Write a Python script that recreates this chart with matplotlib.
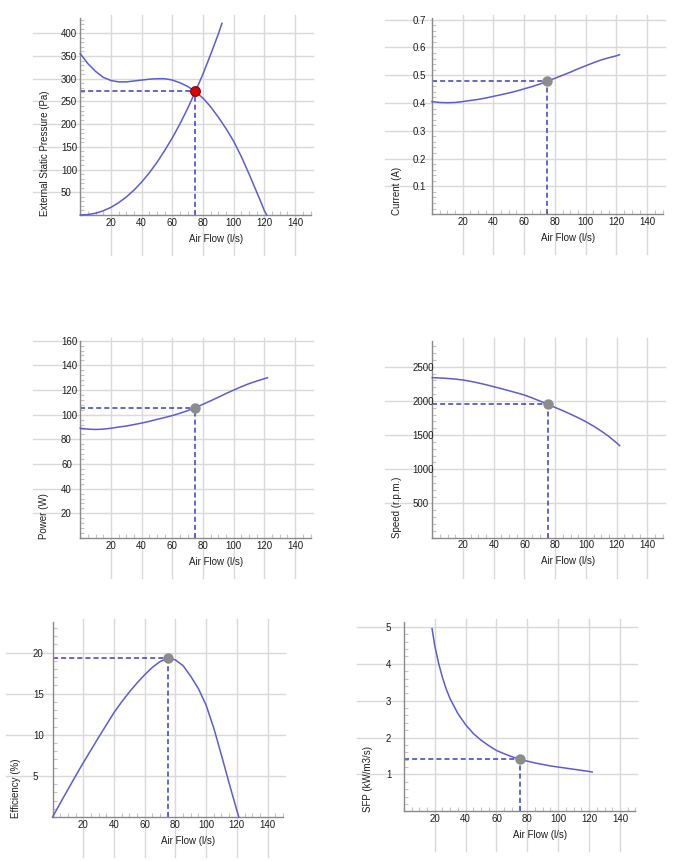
import matplotlib
matplotlib.use('Agg')
import matplotlib.pyplot as plt
import matplotlib.transforms as mtrans
from matplotlib.lines import Line2D
from matplotlib.ticker import MultipleLocator

plt.rcParams['font.family'] = ['Liberation Sans', 'DejaVu Sans']

# ---- data ------------------------------------------------------------------
flow = [0, 5, 10, 15, 20, 25, 30, 35, 40, 45, 50, 55, 60, 65, 70, 75,
        80, 85, 90, 95, 100, 105, 110, 115, 118, 120, 121.5]
pressure = [355, 333, 316, 303, 296, 293, 293, 295, 297, 299, 300, 300, 297,
            291, 283, 272, 257, 238, 215, 190, 162, 128, 90, 50, 26, 9, 0]

sys_flow = [0, 5, 10, 15, 20, 25, 30, 35, 40, 45, 50, 55, 60, 65, 70, 75,
            80, 85, 90, 92.3]
sys_pressure = [0, 0.9, 4, 9.3, 16.9, 27.1, 39.7, 54.9, 72.6, 93, 116, 142,
                170, 201, 235, 272, 311, 354, 399, 422]

flow2 = [0, 5, 10, 15, 20, 25, 30, 35, 40, 45, 50, 55, 60, 65, 70, 75,
         80, 85, 90, 95, 100, 105, 110, 115, 120, 122]
current = [0.405, 0.402, 0.401, 0.402, 0.405, 0.409, 0.413, 0.418, 0.424,
           0.430, 0.436, 0.443, 0.451, 0.459, 0.468, 0.478, 0.489, 0.500,
           0.511, 0.523, 0.534, 0.545, 0.555, 0.563, 0.570, 0.574]
power = [89, 88.3, 88, 88.3, 89, 90, 90.8, 92, 93.2, 94.6, 96.2, 97.7, 99.3,
         101.2, 103.3, 105.7, 108.5, 111.3, 114.2, 117.2, 120, 122.7, 125.2,
         127.3, 129.2, 130]
speed = [2339, 2335, 2328, 2318, 2305, 2285, 2262, 2236, 2207, 2178, 2148,
         2117, 2085, 2043, 1998, 1949, 1903, 1856, 1805, 1752, 1695, 1630,
         1558, 1478, 1385, 1344]

eff_flow = [0, 5, 10, 15, 20, 25, 30, 35, 40, 45, 50, 55, 60, 65, 70, 75,
            80, 85, 90, 95, 100, 105, 110, 115, 120, 121.3]
efficiency = [0, 1.7, 3.35, 5.0, 6.6, 8.15, 9.7, 11.2, 12.7, 14.0, 15.2,
              16.3, 17.3, 18.2, 18.9, 19.3, 19.1, 18.4, 17.1, 15.6, 13.6,
              10.8, 7.5, 4.1, 0.8, 0]

sfp_flow = [18.3, 20, 22.5, 25, 27.5, 30, 35, 40, 45, 50, 55, 60, 65, 70,
            75, 80, 85, 90, 95, 100, 105, 110, 115, 120, 122]
sfp = [4.95, 4.5, 4.02, 3.63, 3.31, 3.05, 2.65, 2.35, 2.11, 1.93, 1.78, 1.65,
       1.56, 1.48, 1.41, 1.36, 1.31, 1.27, 1.23, 1.20, 1.17, 1.14, 1.11,
       1.08, 1.065]

op_flow = 75
op_values = [272, 0.478, 105.7, 1949, 19.3, 1.41]

x_ticks = [20, 40, 60, 80, 100, 120, 140]

W, H = 680, 862
CURVE = '#5c5cd6'
DASH = '#3c3cc8'
GRID = '#d9d9d9'
TXT = '#1e1e1e'

# panel boxes in pixels: left, top, right, bottom
panels = [
    dict(box=(80.3, 19.3, 310.5, 216), ytop=433, yt=[50, 100, 150, 200, 250, 300, 350, 400],
         fmt='{:g}', lx=61, labx=45, label='External Static Pressure (Pa)', minor=10),
    dict(box=(431.9, 19.3, 662.6, 215.1), ytop=0.705, yt=[0.1, 0.2, 0.3, 0.4, 0.5, 0.6, 0.7],
         fmt='{:.1f}', lx=412.7, labx=396.7, label='Current (A)', minor=0.02),
    dict(box=(80.3, 341.7, 310.5, 539), ytop=160, yt=[20, 40, 60, 80, 100, 120, 140, 160],
         fmt='{:g}', lx=61, labx=44.3, label='Power (W)', minor=4),
    dict(box=(432.3, 342, 662.7, 538.5), ytop=2876, yt=[500, 1000, 1500, 2000, 2500],
         fmt='{:g}', lx=412.7, labx=396.7, label='Speed (r.p.m.)', minor=100),
    dict(box=(52.6, 622.7, 282.9, 818), ytop=23.75, yt=[5, 10, 15, 20],
         fmt='{:g}', lx=33, labx=16, label='Efficiency (%)', minor=1),
    dict(box=(403.8, 622.7, 635.4, 812.3), ytop=5.14, yt=[1, 2, 3, 4, 5],
         fmt='{:g}', lx=386, labx=368.3, label='SFP (kW/m3/s)', minor=0.2),
]
curves = [
    [(flow, pressure), (sys_flow, sys_pressure)],
    [(flow2, current)],
    [(flow2, power)],
    [(flow2, speed)],
    [(eff_flow, efficiency)],
    [(sfp_flow, sfp)],
]

fig = plt.figure(figsize=(W / 100, H / 100), dpi=100)

for i, p in enumerate(panels):
    l, t, r, b = p['box']
    ax = fig.add_axes([l / W, 1 - b / H, (r - l) / W, (b - t) / H])
    ax.set_xlim(0, 150)
    ax.set_ylim(0, p['ytop'])
    for s in ['top', 'right']:
        ax.spines[s].set_visible(False)
    for s in ['left', 'bottom']:
        ax.spines[s].set_color('#8a8a8a')
        ax.spines[s].set_linewidth(1.0)
    ax.set_xticks(x_ticks)
    ax.set_yticks(p['yt'])
    ax.xaxis.set_minor_locator(MultipleLocator(5))
    ax.yaxis.set_minor_locator(MultipleLocator(p['minor']))
    ax.tick_params(which='major', length=0, labelbottom=False, labelleft=False)
    ax.tick_params(which='minor', direction='in', length=3, color='#c4c4c4', width=0.8)

    # grid lines running past the plot area
    hy = mtrans.blended_transform_factory(fig.transFigure, ax.transData)
    vx = mtrans.blended_transform_factory(ax.transData, fig.transFigure)
    for y in p['yt']:
        ax.add_line(Line2D([(l - 47) / W, (r + 2) / W], [y, y], transform=hy,
                           color=GRID, lw=1, clip_on=False, zorder=0))
        ax.text(p['lx'] / W, y, p['fmt'].format(y), transform=hy, ha='left',
                va='center', fontsize=7, color=TXT)
    for x in x_ticks:
        ax.add_line(Line2D([x, x], [1 - (b + 40) / H, 1 - (t - 3) / H], transform=vx,
                           color=GRID, lw=1, clip_on=False, zorder=0))
        ax.text(x, 1 - (b + 7) / H, str(x), transform=vx, ha='center', va='center',
                fontsize=7, color=TXT)

    ax.text(88.5, 1 - (b + 23) / H, 'Air Flow (l/s)', transform=vx, ha='center',
            va='center', fontsize=7, color=TXT)
    fig.text(p['labx'] / W, 1 - b / H, p['label'], rotation=90, ha='center',
             va='bottom', fontsize=7, color=TXT)

    for xs, ys in curves[i]:
        ax.plot(xs, ys, color=CURVE, lw=1.1, clip_on=False, zorder=3)

    yop = op_values[i]
    ax.plot([0, op_flow], [yop, yop], color=DASH, lw=1.1, ls=(0, (3.3, 2)), zorder=2)
    ax.plot([op_flow, op_flow], [0, yop], color=DASH, lw=1.1, ls=(0, (3.3, 2)), zorder=2)
    if i == 0:
        ax.plot([op_flow], [yop], 'o', ms=7, mfc='#e00000', mec='#8b0000', mew=0.8,
                zorder=4, clip_on=False)
    else:
        ax.plot([op_flow], [yop], 'o', ms=6.5, mfc='#8c8c8c', mec='#8c8c8c',
                zorder=4, clip_on=False)

fig.savefig('out.png', dpi=100)
